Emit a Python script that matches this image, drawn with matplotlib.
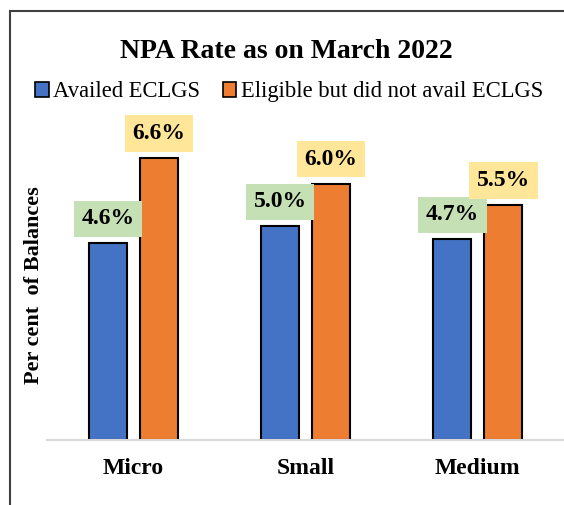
import matplotlib
matplotlib.use("Agg")
import matplotlib.pyplot as plt
from matplotlib.patches import Patch, Rectangle
import numpy as np

categories = ["Micro", "Small", "Medium"]
series_names = ["Availed ECLGS", "Eligible but did not avail ECLGS"]
availed = [4.6, 5.0, 4.7]
eligible = [6.6, 6.0, 5.5]
labels_availed = ["4.6%", "5.0%", "4.7%"]
labels_eligible = ["6.6%", "6.0%", "5.5%"]

blue = "#4472C4"
orange = "#ED7D31"
green_box = "#C5E0B4"
yellow_box = "#FFE699"

W, H = 564, 505
fig = plt.figure(figsize=(W / 100, H / 100), dpi=100)
serif = ["Liberation Serif", "DejaVu Serif"]

ax = fig.add_axes([47.5 / W, 65 / H, (W - 47.5) / W, 342 / H])
x = np.arange(len(categories))
bw = 0.22
off = 0.148
b1 = ax.bar(x - off, availed, bw, color=blue, edgecolor="black", linewidth=1.5, zorder=3)
b2 = ax.bar(x + off, eligible, bw, color=orange, edgecolor="black", linewidth=1.5, zorder=3)

ax.set_xlim(-0.5, 2.5)
ax.set_ylim(0, 8)
for s in ["top", "right", "left"]:
    ax.spines[s].set_visible(False)
ax.spines["bottom"].set_color("#D9D9D9")
ax.spines["bottom"].set_linewidth(1.5)
ax.spines["bottom"].set_zorder(4)
ax.set_yticks([])
ax.set_xticks(x)
ax.set_xticklabels(categories, fontfamily=serif, fontweight="bold", fontsize=17)
ax.tick_params(axis="x", length=0, pad=13)

for xi, v, lab in zip(x - off, availed, labels_availed):
    ax.annotate(lab, (xi, v), xytext=(0, 10), textcoords="offset points",
                ha="center", va="bottom", fontsize=17, fontweight="bold",
                fontfamily=serif,
                bbox=dict(boxstyle="square,pad=0.32", fc=green_box, ec="none"))
for xi, v, lab in zip(x + off, eligible, labels_eligible):
    ax.annotate(lab, (xi, v), xytext=(0, 10), textcoords="offset points",
                ha="center", va="bottom", fontsize=17, fontweight="bold",
                fontfamily=serif,
                bbox=dict(boxstyle="square,pad=0.32", fc=yellow_box, ec="none"))

fig.text(34 / W, 1 - 285 / H, "Per cent  of Balances", rotation=90, ha="center",
         va="center", fontsize=16, fontweight="bold", fontfamily=serif)

fig.text(286 / W, 1 - 52 / H, "NPA Rate as on March 2022", ha="center", va="center",
         fontsize=20, fontweight="bold", fontfamily=serif)

handles = [Patch(facecolor=blue, edgecolor="black", linewidth=1.2),
           Patch(facecolor=orange, edgecolor="black", linewidth=1.2)]
fig.legend(handles, series_names, loc="center", bbox_to_anchor=(289 / W, 1 - 92 / H),
           ncol=2, frameon=False, prop={"family": serif, "size": 16.3},
           handlelength=0.6, handleheight=0.6, handletextpad=0.2, columnspacing=1.0,
           borderpad=0, borderaxespad=0)

fig.patches.append(Rectangle((10 / W, -0.1), 1.2, 1 - 11 / H + 0.1,
                             transform=fig.transFigure, fill=False,
                             edgecolor="#404040", linewidth=1.5))

fig.savefig("out.png", dpi=100)
